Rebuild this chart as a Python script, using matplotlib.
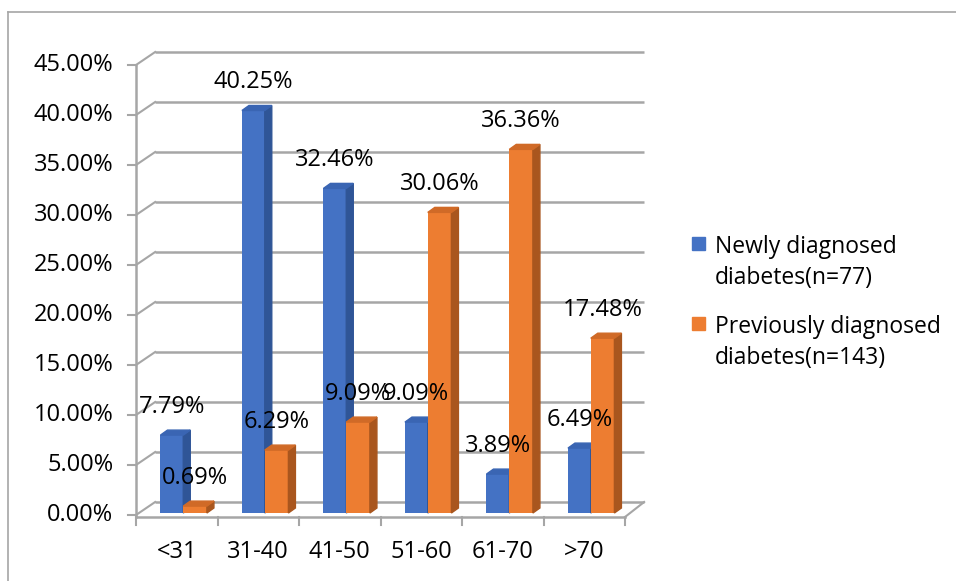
import matplotlib.pyplot as plt
from matplotlib.patches import Polygon, Rectangle
from matplotlib.lines import Line2D

plt.rcParams['font.family'] = ['Open Sans', 'DejaVu Sans']

categories = ['<31', '31-40', '41-50', '51-60', '61-70', '>70']
newly = [7.79, 40.25, 32.46, 9.09, 3.89, 6.49]
previously = [0.69, 6.29, 9.09, 30.06, 36.36, 17.48]
series_names = ['Newly diagnosed\ndiabetes(n=77)', 'Previously diagnosed\ndiabetes(n=143)']
yticks = [0, 5, 10, 15, 20, 25, 30, 35, 40, 45]

W, H = 956, 581
fig = plt.figure(figsize=(W / 100, H / 100), dpi=100)
fig.patch.set_facecolor('white')

# chart frame (top and left edges only)
fig.add_artist(Line2D([8 / W, 1], [1 - 12 / H, 1 - 12 / H], color='#a6a6a6', lw=1.2))
fig.add_artist(Line2D([8 / W, 8 / W], [0, 1 - 12 / H], color='#a6a6a6', lw=1.2))

# front plane: x 0..6 -> px 136..625, y 0..45 -> px 515..65
ax = fig.add_axes([136 / W, (H - 515) / H, 489 / W, 450 / H])
ax.set_xlim(0, 6)
ax.set_ylim(0, 45)
ax.axis('off')

fs = 17
grid_c = '#a6a6a6'
wall_dx, wall_dy = 0.235, 1.3   # back wall offset
bar_dx, bar_dy = 0.086, 0.5     # bar depth
base = 0.2

# back wall gridlines + left wall diagonals
for v in yticks:
    ax.plot([wall_dx, 6 + wall_dx], [v + wall_dy, v + wall_dy], color=grid_c, lw=1.8,
            clip_on=False, zorder=1, solid_capstyle='butt')
    ax.plot([0, wall_dx], [v, v + wall_dy], color=grid_c, lw=1.5, clip_on=False, zorder=1)
    ax.plot([-0.1, 0], [v, v], color=grid_c, lw=1.5, clip_on=False, zorder=1)
    ax.text(-0.28, v, '{:.2f}%'.format(v), ha='right', va='center', fontsize=fs)

# floor edges and front axes
ax.plot([0, 6], [-0.2, -0.2], color=grid_c, lw=1.8, clip_on=False, zorder=1)
ax.plot([6, 6 + wall_dx], [-0.2, wall_dy], color=grid_c, lw=1.5, clip_on=False, zorder=1)
ax.plot([0, 0], [-0.2, 45], color=grid_c, lw=1.8, clip_on=False, zorder=1)
for i in range(7):
    ax.plot([i, i], [-0.2, -1.0], color=grid_c, lw=1.5, clip_on=False, zorder=1)
for i, c in enumerate(categories):
    ax.text(i + 0.5, -3.7, c, ha='center', va='center', fontsize=fs)

series = [
    (newly, 0.30, 0.28, '#4472c4', '#2f5597', '#3a65b3'),
    (previously, 0.58, 0.29, '#ed7d31', '#a9561e', '#d06a27'),
]
for vals, off, w, front, side, top in series:
    xs = [i + off for i in range(len(vals))]
    ax.bar(xs, vals, width=w, bottom=base, align='edge', color=front, zorder=3)
    for x, v in zip(xs, vals):
        t = base + v
        ax.add_patch(Polygon([(x + w, base), (x + w + bar_dx, base + bar_dy),
                              (x + w + bar_dx, t + bar_dy), (x + w, t)],
                             closed=True, color=side, zorder=3, clip_on=False))
        ax.add_patch(Polygon([(x, t), (x + bar_dx, t + bar_dy),
                              (x + w + bar_dx, t + bar_dy), (x + w, t)],
                             closed=True, color=top, zorder=3, clip_on=False))
    for x, v in zip(xs, vals):
        ax.text(x + w / 2, v + 3.0, '{:.2f}%'.format(v), ha='center', va='center',
                fontsize=fs, zorder=5)

# legend
lx = 692 / W
for k, (name, col) in enumerate(zip(series_names, ['#4472c4', '#ed7d31'])):
    cy = [244, 324][k]
    fig.add_artist(Rectangle((lx, 1 - (cy + 6) / H), 13 / W, 13 / H, color=col,
                             transform=fig.transFigure))
    l1, l2 = name.split('\n')
    fig.text(715 / W, 1 - (cy + 3) / H, l1, ha='left', va='center', fontsize=16.5)
    fig.text(715 / W, 1 - (cy + 34) / H, l2, ha='left', va='center', fontsize=16.5)

fig.savefig('out.png', dpi=100, facecolor='white')
